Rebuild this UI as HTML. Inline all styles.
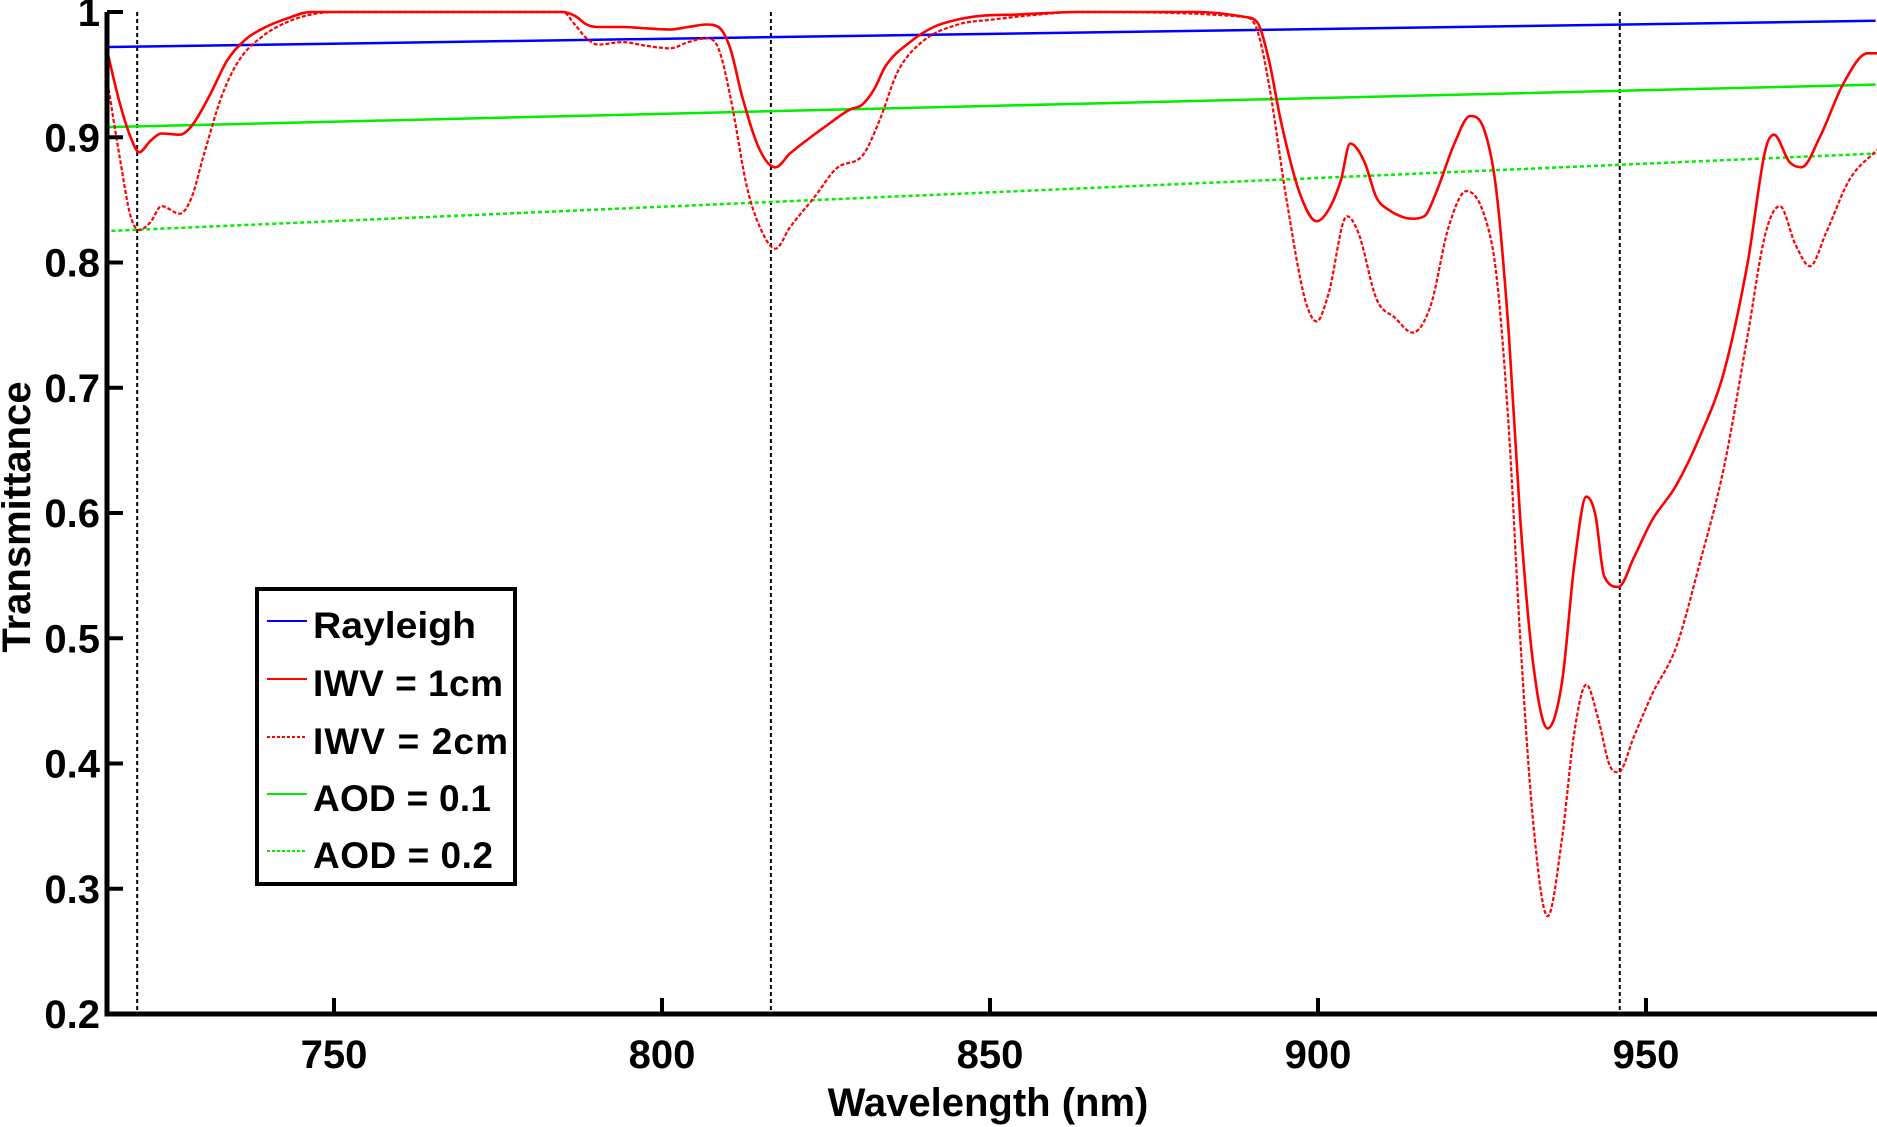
<!DOCTYPE html>
<html><head><meta charset="utf-8"><style>
html,body{margin:0;padding:0;background:#fff;}
svg{display:block;font-family:"Liberation Sans",Arial,sans-serif;font-weight:bold;}
</style></head><body>
<svg id="chart" width="1877" height="1127" viewBox="0 0 1877 1127">
<defs><clipPath id="clip"><rect x="107" y="0" width="1770" height="1014"/></clipPath></defs>
<g id="plot" clip-path="url(#clip)"></g>
<g id="axes"></g>
<text x="30" y="517" font-size="40" text-anchor="middle" transform="rotate(-90 30 517)">Transmittance</text>
<text x="988" y="1116" font-size="40" text-anchor="middle">Wavelength (nm)</text>
<g>
<rect x="257" y="589" width="258" height="295" fill="#fff" stroke="#000" stroke-width="4"/>
<g><line x1="267" y1="621" x2="307" y2="621" stroke="#0000ff" stroke-width="2"/><text x="313" y="638" font-size="37" textLength="163" lengthAdjust="spacingAndGlyphs">Rayleigh</text></g>
<g><line x1="267" y1="679" x2="307" y2="679" stroke="#ff0000" stroke-width="2"/><text x="313" y="696" font-size="37" textLength="190" lengthAdjust="spacing">IWV = 1cm</text></g>
<g><line x1="267" y1="737" x2="307" y2="737" stroke="#ff0000" stroke-width="2" stroke-dasharray="3 2"/><text x="313" y="754" font-size="37" textLength="195" lengthAdjust="spacing">IWV = 2cm</text></g>
<g><line x1="267" y1="794" x2="307" y2="794" stroke="#00ee00" stroke-width="2"/><text x="313" y="811" font-size="37" textLength="178" lengthAdjust="spacing">AOD = 0.1</text></g>
<g><line x1="267" y1="851" x2="307" y2="851" stroke="#00ee00" stroke-width="2" stroke-dasharray="3 2"/><text x="313" y="868" font-size="37" textLength="180" lengthAdjust="spacing">AOD = 0.2</text></g>
</g>
</svg>
<script>
const xTicks=[750,800,850,900,950];
const yTicks=[0.2,0.3,0.4,0.5,0.6,0.7,0.8,0.9,1];
const yTickLabels=["0.2","0.3","0.4","0.5","0.6","0.7","0.8","0.9","1"];
const bands=[720,816.6,946];
const rayleighWl=[715,985];
const rayleighT=[0.972,0.993];
const aod1T=[0.908,0.942];
const aod2T=[0.825,0.887];
const wl1=[715.5,717.3,719,720.3,722,723.7,726.5,728.3,731,733.8,736.5,739.2,742.9,746.5,750,784.9,786.7,788.5,790.3,794,797.6,801.3,804,806.8,808.6,810.4,812.2,814.9,817.3,819.5,821.4,825,828.6,830.5,832.3,834.1,837.8,841.4,845.1,848.7,854.2,863.3,881.6,888.9,890.7,892.5,894.3,897.1,899.8,901.6,903.5,904.9,907.1,908.9,910.8,914.4,916.2,918.1,920.8,923.2,925.4,927.2,929.1,930.8,932.7,935,937.2,939.1,940.9,942.3,943.6,945.8,948.2,950.9,954.6,958.2,961.9,965.5,968.2,969.5,971.9,973.7,976.5,980.1,983.8,986];
const t1=[0.967,0.928,0.9,0.888,0.897,0.903,0.902,0.909,0.933,0.962,0.978,0.987,0.995,1,1,1,0.997,0.99,0.988,0.988,0.987,0.986,0.988,0.99,0.988,0.971,0.933,0.89,0.876,0.887,0.895,0.909,0.922,0.926,0.938,0.957,0.976,0.988,0.994,0.997,0.998,1,1,0.996,0.992,0.962,0.914,0.857,0.833,0.842,0.866,0.895,0.88,0.852,0.842,0.835,0.837,0.857,0.895,0.917,0.905,0.857,0.742,0.598,0.484,0.428,0.465,0.56,0.613,0.598,0.55,0.541,0.565,0.594,0.622,0.661,0.713,0.8,0.89,0.902,0.88,0.876,0.9,0.943,0.967,0.967];
const wl2=[715.5,717.3,719,720.3,722,723.7,726.5,728.3,730.1,732.9,735.6,739.2,742.9,746.5,750.2,784.9,786.7,788.5,790.3,794,797.6,801.3,804,806.8,808.6,810.4,813.1,815.9,817.3,819.5,823.2,826.8,830.5,833.2,835.9,839.6,845.1,850.5,857.5,863.3,888.9,890.7,892.5,895.3,898,899.8,901.6,904.4,906.2,908.9,911.7,914.4,917.2,919.9,922.6,925.4,927.2,929.1,930.8,932.7,935,937.2,939.1,940.9,942.7,944.5,945.8,948.2,950.9,954.6,958.2,961.9,965.5,968.2,970.4,972.8,975,977.4,981,985.2];
const t2=[0.943,0.885,0.837,0.826,0.832,0.845,0.839,0.852,0.885,0.933,0.962,0.981,0.992,0.998,1,1,0.99,0.979,0.974,0.976,0.973,0.971,0.976,0.979,0.971,0.933,0.857,0.818,0.811,0.828,0.852,0.876,0.885,0.914,0.952,0.976,0.99,0.994,0.998,1,0.996,0.986,0.943,0.847,0.771,0.753,0.775,0.837,0.823,0.771,0.756,0.744,0.766,0.828,0.857,0.837,0.79,0.666,0.503,0.359,0.278,0.34,0.426,0.463,0.436,0.398,0.393,0.422,0.455,0.493,0.56,0.637,0.742,0.823,0.845,0.814,0.797,0.823,0.866,0.89];

const X=v=>334+(v-750)*6.56;
const Y=v=>12+(1-v)*1252.5;
const NS='http://www.w3.org/2000/svg';
const plot=document.getElementById('plot');
const axes=document.getElementById('axes');
function mk(tag,attrs,parent){const e=document.createElementNS(NS,tag);for(const k in attrs)e.setAttribute(k,attrs[k]);parent.appendChild(e);return e;}
function smooth(xs,ys){
  const px=xs.map(X),py=ys.map(Y),n=px.length;
  const d=[],m=[];
  for(let i=0;i<n-1;i++)d.push((py[i+1]-py[i])/(px[i+1]-px[i]));
  m[0]=d[0];m[n-1]=d[n-2];
  for(let i=1;i<n-1;i++){m[i]=(d[i-1]*d[i]<=0)?0:(d[i-1]+d[i])/2;}
  for(let i=0;i<n-1;i++){
    if(d[i]===0){m[i]=0;m[i+1]=0;continue;}
    const a=m[i]/d[i],b=m[i+1]/d[i],s=a*a+b*b;
    if(s>9){const t=3/Math.sqrt(s);m[i]=t*a*d[i];m[i+1]=t*b*d[i];}
  }
  let p='M'+px[0].toFixed(1)+','+py[0].toFixed(1);
  for(let i=0;i<n-1;i++){
    const h=(px[i+1]-px[i])/3;
    p+='C'+(px[i]+h).toFixed(1)+','+(py[i]+m[i]*h).toFixed(1)+' '+(px[i+1]-h).toFixed(1)+','+(py[i+1]-m[i+1]*h).toFixed(1)+' '+px[i+1].toFixed(1)+','+py[i+1].toFixed(1);
  }
  return p;
}
bands.forEach(b=>{
  const l=mk('line',{x1:X(b),x2:X(b),y1:12,y2:1014,stroke:'#000','stroke-width':2,'stroke-dasharray':'4 3'},plot);
  
  
});
const r=mk('line',{x1:X(rayleighWl[0]),y1:Y(rayleighT[0]),x2:X(rayleighWl[1]),y2:Y(rayleighT[1]),stroke:'#0000ff','stroke-width':2.5},plot);


const a1=mk('line',{x1:X(rayleighWl[0]),y1:Y(aod1T[0]),x2:X(rayleighWl[1]),y2:Y(aod1T[1]),stroke:'#00ee00','stroke-width':2.5},plot);


const a2=mk('line',{x1:X(rayleighWl[0]),y1:Y(aod2T[0]),x2:X(rayleighWl[1]),y2:Y(aod2T[1]),stroke:'#00ee00','stroke-width':2.5,'stroke-dasharray':'4 3'},plot);


const c2=mk('path',{d:smooth(wl2,t2),fill:'none',stroke:'#ff0000','stroke-width':2.2,'stroke-dasharray':'4 2'},plot);


const c1=mk('path',{d:smooth(wl1,t1),fill:'none',stroke:'#ff0000','stroke-width':2.6},plot);


const ax=mk('path',{d:'M107,12 L107,1014 L1877,1014',fill:'none',stroke:'#000','stroke-width':5},axes);


xTicks.forEach(v=>{
  const t=mk('line',{x1:X(v),x2:X(v),y1:1014,y2:998,stroke:'#000','stroke-width':4},axes);
  
  
  const tx=mk('text',{x:X(v),y:1068,'font-size':40,'text-anchor':'middle'},axes);
  tx.textContent=v;
  
  
});
yTicks.forEach((v,i)=>{
  const t=mk('line',{x1:107,x2:123,y1:Y(v),y2:Y(v),stroke:'#000','stroke-width':4},axes);
  
  
  const tx=mk('text',{x:100,y:Y(v)+14,'font-size':40,'text-anchor':'end'},axes);
  tx.textContent=yTickLabels[i];
  
  
});
</script>
</body></html>
